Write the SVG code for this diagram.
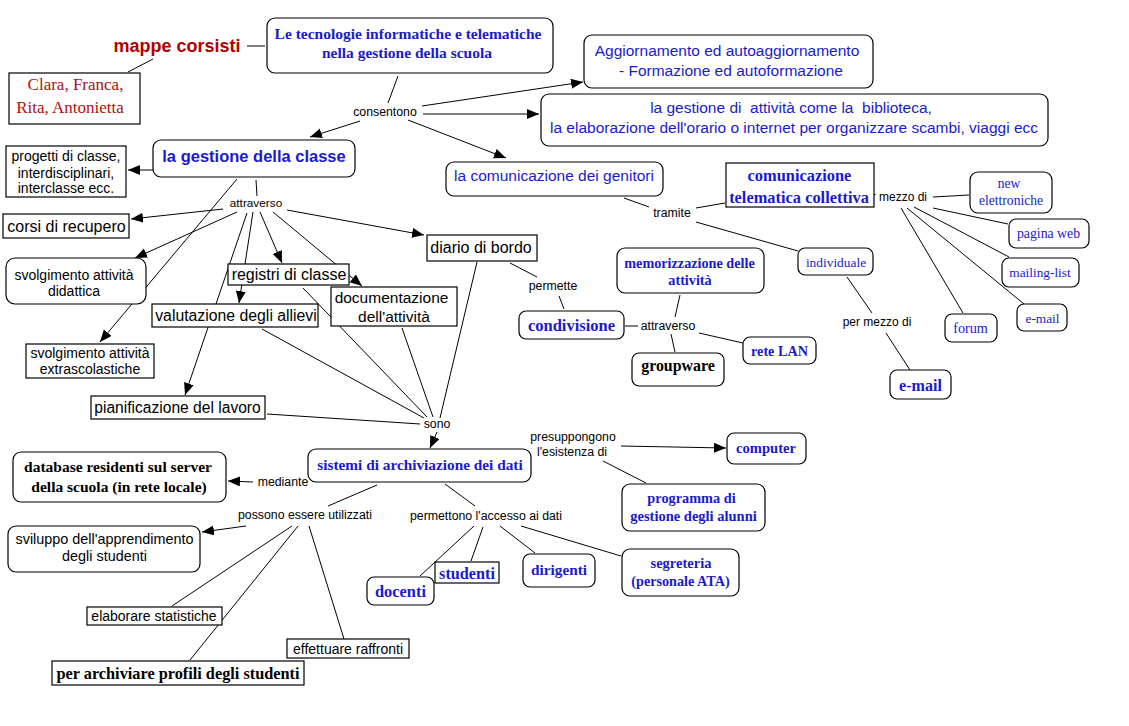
<svg xmlns="http://www.w3.org/2000/svg" width="1129" height="726" viewBox="0 0 1129 726">
<style>
.box{fill:#fff;stroke:#000;stroke-width:1.2}
.ln{stroke:#000;stroke-width:1;fill:none}
.ar{marker-end:url(#ah)}
.s{font-family:"Liberation Sans",Arial,sans-serif}
.f{font-family:"Liberation Serif","Times New Roman",serif}
.b{font-weight:bold}
.bl{fill:#1a1acc}
.k{fill:#000}
.rd{fill:#b00000}
.lb{font-family:"Liberation Sans",Arial,sans-serif;font-size:12.3px;fill:#000}
text{text-anchor:middle}
</style>
<defs>
<marker id="ah" markerUnits="userSpaceOnUse" markerWidth="13" markerHeight="11" refX="12" refY="5" orient="auto">
<path d="M0,0 L12,5 L0,10 z" fill="#000"/>
</marker>
</defs>
<rect width="1129" height="726" fill="#fff"/>
<g id="connectors">
<path class="ln" d="M247,46 L265,46"/>
<path class="ln" d="M153,59 L128,72"/>
<path class="ln" d="M398,76 L388,103"/>
<path class="ln ar" d="M422,106 L583,82"/>
<path class="ln ar" d="M423,114 L539,114"/>
<path class="ln ar" d="M408,120 L506,158"/>
<path class="ln ar" d="M360,121 L310,137"/>
<path class="ln ar" d="M153,170 L128,170"/>
<path class="ln" d="M256,180 L257,196"/>
<path class="ln ar" d="M237,179 L100,342"/>
<path class="ln ar" d="M223,209 L131,219"/>
<path class="ln ar" d="M237,212 L135,258"/>
<path class="ln ar" d="M260,212 L282,263"/>
<path class="ln ar" d="M273,212 L362,286"/>
<path class="ln ar" d="M253,212 L239,303"/>
<path class="ln ar" d="M247,213 L185,395"/>
<path class="ln ar" d="M287,210 L424,235"/>
<path class="ln" d="M262,329 L424,418"/>
<path class="ln" d="M303,288 L427,417"/>
<path class="ln" d="M402,328 L433,417"/>
<path class="ln" d="M477,262 L440,418"/>
<path class="ln" d="M267,414 L420,424"/>
<path class="ln ar" d="M437,432 L430,448"/>
<path class="ln ar" d="M253,482 L228,481"/>
<path class="ln" d="M377,485 L328,506"/>
<path class="ln ar" d="M246,526 L202,532"/>
<path class="ln" d="M292,526 L172,606"/>
<path class="ln" d="M298,526 L190,660"/>
<path class="ln" d="M309,526 L344,639"/>
<path class="ln" d="M445,484 L475,506"/>
<path class="ln" d="M474,526 L420,576"/>
<path class="ln" d="M483,527 L471,561"/>
<path class="ln" d="M500,526 L535,553"/>
<path class="ln" d="M521,526 L621,556"/>
<path class="ln ar" d="M621,446 L726,448"/>
<path class="ln" d="M603,461 L646,483"/>
<path class="ln" d="M624,198 L649,207"/>
<path class="ln" d="M696,208 L725,203"/>
<path class="ln" d="M696,222 L798,251"/>
<path class="ln" d="M933,197 L969,195"/>
<path class="ln" d="M933,208 L1008,224"/>
<path class="ln" d="M914,207 L1009,257"/>
<path class="ln" d="M907,208 L1024,304"/>
<path class="ln" d="M901,208 L963,313"/>
<path class="ln" d="M847,277 L872,313"/>
<path class="ln" d="M886,333 L910,370"/>
<path class="ln" d="M510,263 L537,277"/>
<path class="ln" d="M559,296 L564,309"/>
<path class="ln" d="M625,326 L638,326"/>
<path class="ln" d="M680,295 L675,317"/>
<path class="ln" d="M671,334 L675,352"/>
<path class="ln" d="M699,333 L743,343"/>
<text class="lb" x="385" y="116">consentono</text>
<text class="lb" x="256" y="207" style="font-size:11.8px">attraverso</text>
<text class="lb" x="437" y="428">sono</text>
<text class="lb" x="283" y="486">mediante</text>
<text class="lb" x="305" y="519">possono essere utilizzati</text>
<text class="lb" x="486" y="520">permettono l'accesso ai dati</text>
<text class="lb" x="573" y="441">presuppongono</text>
<text class="lb" x="572" y="456">l'esistenza di</text>
<text class="lb" x="672" y="217">tramite</text>
<text class="lb" x="927" y="201" style="text-anchor:end;font-size:12px">per mezzo di</text>
<text class="lb" x="877" y="326" style="font-size:12px">per mezzo di</text>
<text class="lb" x="553" y="290">permette</text>
<text class="lb" x="668" y="330">attraverso</text>
</g>
<g id="mappe"><text class="s b rd" x="177" y="52" style="font-size:18px">mappe corsisti</text></g>
<g id="clara"><rect class="box" x="9" y="73" width="131" height="51"/>
<text class="f" x="75.5" y="90" style="font-size:17px;fill:#b01010">Clara, Franca,</text>
<text class="f" x="70" y="113" style="font-size:17px;fill:#b01010">Rita, Antonietta</text></g>
<g id="top"><rect class="box" x="267" y="18" width="286" height="55" rx="8"/>
<text class="f b bl" x="408" y="38.5" style="font-size:15.5px">Le tecnologie informatiche e telematiche</text>
<text class="f b bl" x="407" y="57.5" style="font-size:15.5px">nella gestione della scuola</text></g>
<g id="aggiornamento"><rect class="box" x="584" y="35" width="289" height="53" rx="8"/>
<text class="s bl" x="727" y="56" style="font-size:15.5px">Aggiornamento ed autoaggiornamento</text>
<text class="s bl" x="731" y="76" style="font-size:15.5px">- Formazione ed autoformazione</text></g>
<g id="gestione-attivita"><rect class="box" x="541" y="94" width="507" height="52" rx="8"/>
<text class="s bl" x="791" y="113" style="font-size:15.5px;white-space:pre">la gestione di  attività come la  biblioteca,</text>
<text class="s bl" x="794" y="133" style="font-size:15.5px">la elaborazione dell'orario o internet per organizzare scambi, viaggi ecc</text></g>
<g id="genitori"><rect class="box" x="446" y="162" width="217" height="34" rx="8"/>
<text class="s bl" x="554" y="180.5" style="font-size:15.5px">la comunicazione dei genitori</text></g>
<g id="gestione-classe"><rect class="box" x="153" y="140" width="202" height="37" rx="8"/>
<text class="s b bl" x="254" y="162" style="font-size:16.5px">la gestione della classe</text></g>
<g id="progetti"><rect class="box" x="6" y="146" width="120" height="51"/>
<text class="s k" x="66" y="161" style="font-size:14px">progetti di classe,</text>
<text class="s k" x="66" y="177.5" style="font-size:14px">interdisciplinari,</text>
<text class="s k" x="66" y="193" style="font-size:14px">interclasse ecc.</text></g>
<g id="corsi"><rect class="box" x="3" y="214" width="126" height="24"/>
<text class="s k" x="66.5" y="231.5" style="font-size:16px">corsi di recupero</text></g>
<g id="didattica"><rect class="box" x="6" y="258" width="140" height="46" rx="9"/>
<text class="s k" x="74" y="280" style="font-size:14px">svolgimento attività</text>
<text class="s k" x="74" y="296" style="font-size:14px">didattica</text></g>
<g id="extrascolastiche"><rect class="box" x="26" y="344" width="128" height="34"/>
<text class="s k" x="90" y="358" style="font-size:14px">svolgimento attività</text>
<text class="s k" x="90" y="373.5" style="font-size:14px">extrascolastiche</text></g>
<g id="registri"><rect class="box" x="228" y="264" width="121" height="21"/>
<text class="s k" x="289" y="280" style="font-size:16px">registri di classe</text></g>
<g id="documentazione"><rect class="box" x="331" y="287" width="126" height="39"/>
<text class="s k" x="391.5" y="302.5" style="font-size:15.5px">documentazione</text>
<text class="s k" x="394" y="322" style="font-size:15.5px">dell'attività</text></g>
<g id="valutazione"><rect class="box" x="152" y="304" width="166" height="23"/>
<text class="s k" x="236" y="321" style="font-size:15.8px">valutazione degli allievi</text></g>
<g id="pianificazione"><rect class="box" x="91" y="396" width="174" height="23"/>
<text class="s k" x="177.5" y="413" style="font-size:15.6px">pianificazione del lavoro</text></g>
<g id="diario"><rect class="box" x="427" y="235" width="110" height="26"/>
<text class="s k" x="481" y="253" style="font-size:16px">diario di bordo</text></g>
<g id="sistemi"><rect class="box" x="308" y="449" width="223" height="33" rx="8"/>
<text class="f b bl" x="420" y="469.5" style="font-size:15.3px">sistemi di archiviazione dei dati</text></g>
<g id="database"><rect class="box" x="13" y="452" width="213" height="50" rx="8"/>
<text class="f b k" x="118" y="471.5" style="font-size:15.5px">database residenti sul server</text>
<text class="f b k" x="119" y="491.5" style="font-size:15.5px">della scuola (in rete locale)</text></g>
<g id="sviluppo"><rect class="box" x="8" y="526" width="192" height="46" rx="8"/>
<text class="s k" x="104.5" y="544" style="font-size:14.4px">sviluppo dell'apprendimento</text>
<text class="s k" x="104.5" y="561" style="font-size:14.4px">degli studenti</text></g>
<g id="elaborare"><rect class="box" x="87" y="607" width="135" height="18"/>
<text class="s k" x="154" y="621" style="font-size:14px">elaborare statistiche</text></g>
<g id="effettuare"><rect class="box" x="287" y="639" width="122" height="19"/>
<text class="s k" x="348" y="654" style="font-size:14px">effettuare raffronti</text></g>
<g id="archiviare"><rect class="box" x="52" y="661" width="252" height="24"/>
<text class="f b k" x="178" y="678.5" style="font-size:16.3px">per archiviare profili degli studenti</text></g>
<g id="docenti"><rect class="box" x="367" y="577" width="67" height="28" rx="7"/>
<text class="f b bl" x="400.5" y="596.5" style="font-size:16.4px">docenti</text></g>
<g id="studenti"><rect class="box" x="435" y="562" width="64" height="21"/>
<text class="f b bl" x="467" y="578.5" style="font-size:16.2px">studenti</text></g>
<g id="dirigenti"><rect class="box" x="523" y="554" width="72" height="33" rx="7"/>
<text class="f b bl" x="559" y="574.5" style="font-size:15.3px">dirigenti</text></g>
<g id="segreteria"><rect class="box" x="622" y="549" width="117" height="47" rx="8"/>
<text class="f b bl" x="681" y="567.5" style="font-size:14.5px">segreteria</text>
<text class="f b bl" x="680.5" y="585.5" style="font-size:14.2px">(personale ATA)</text></g>
<g id="computer"><rect class="box" x="727" y="433" width="79" height="31" rx="7"/>
<text class="f b bl" x="766" y="453" style="font-size:14.6px">computer</text></g>
<g id="programma"><rect class="box" x="622" y="484" width="143" height="47" rx="8"/>
<text class="f b bl" x="691.5" y="502.5" style="font-size:14.3px">programma di</text>
<text class="f b bl" x="693.5" y="520.5" style="font-size:14.5px">gestione degli alunni</text></g>
<g id="memorizzazione"><rect class="box" x="617" y="248" width="147" height="45" rx="8"/>
<text class="f b bl" x="689.5" y="267.5" style="font-size:14.2px">memorizzazione delle</text>
<text class="f b bl" x="690" y="285" style="font-size:14.2px">attività</text></g>
<g id="condivisione"><rect class="box" x="519" y="311" width="105" height="28" rx="7"/>
<text class="f b bl" x="571.5" y="330.5" style="font-size:16.5px">condivisione</text></g>
<g id="groupware"><rect class="box" x="632" y="353" width="92" height="33" rx="7"/>
<text class="f b k" x="678" y="370.5" style="font-size:15.9px">groupware</text></g>
<g id="retelan"><rect class="box" x="743" y="337" width="73" height="27" rx="7"/>
<text class="f b bl" x="779.5" y="356" style="font-size:14.2px">rete LAN</text></g>
<g id="telematica"><rect class="box" x="726" y="163" width="148" height="44"/>
<text class="f b bl" x="799.5" y="180.5" style="font-size:16.4px">comunicazione</text>
<text class="f b bl" x="799" y="202.5" style="font-size:16.4px">telematica collettiva</text></g>
<g id="new"><rect class="box" x="970" y="172" width="82" height="41" rx="8"/>
<text class="f bl" x="1009" y="187.5" style="font-size:13.6px">new</text>
<text class="f bl" x="1011" y="205" style="font-size:13.6px">elettroniche</text></g>
<g id="pagina"><rect class="box" x="1009" y="219" width="80" height="29" rx="7"/>
<text class="f bl" x="1048.5" y="238" style="font-size:13.8px">pagina web</text></g>
<g id="mailing"><rect class="box" x="1002" y="258" width="77" height="29" rx="7"/>
<text class="f bl" x="1040" y="277" style="font-size:13.3px">mailing-list</text></g>
<g id="email-small"><rect class="box" x="1017" y="304" width="50" height="27" rx="7"/>
<text class="f bl" x="1042.5" y="323" style="font-size:13.3px">e-mail</text></g>
<g id="forum"><rect class="box" x="945" y="314" width="52" height="28" rx="7"/>
<text class="f bl" x="970.5" y="332.5" style="font-size:14.2px">forum</text></g>
<g id="individuale"><rect class="box" x="798" y="248" width="75" height="27" rx="7"/>
<text class="f bl" x="836" y="266.5" style="font-size:13.4px">individuale</text></g>
<g id="email-bold"><rect class="box" x="890" y="370" width="61" height="29" rx="7"/>
<text class="f b bl" x="920.5" y="390.5" style="font-size:16.1px">e-mail</text></g>
</svg>
